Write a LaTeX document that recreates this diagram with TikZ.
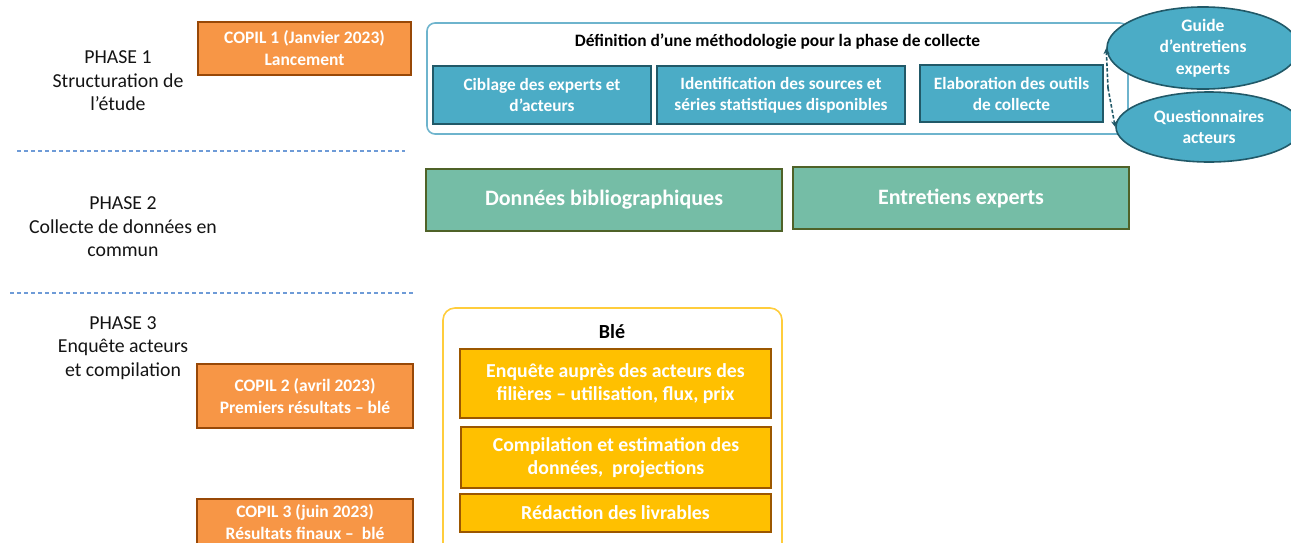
\documentclass[tikz,border=0pt]{standalone}
\usepackage{fontspec}
\setmainfont{Carlito}
\usetikzlibrary{shapes.geometric,arrows.meta}
\definecolor{orfill}{RGB}{247,150,70}
\definecolor{ordraw}{RGB}{152,72,7}
\definecolor{blfill}{RGB}{75,172,198}
\definecolor{bldraw}{RGB}{33,89,104}
\definecolor{blout}{RGB}{110,180,205}
\definecolor{grfill}{RGB}{117,189,166}
\definecolor{grdraw}{RGB}{79,98,40}
\definecolor{yefill}{RGB}{255,192,0}
\definecolor{yedraw}{RGB}{156,87,0}
\definecolor{yeout}{RGB}{255,205,60}
\definecolor{sep}{RGB}{110,155,215}
\definecolor{txt}{RGB}{20,20,20}
\tikzset{
  box/.style={draw, line width=1.6pt, inner sep=2pt, align=center, text=white, font=\bfseries},
  copil/.style={box, fill=orfill, draw=ordraw, font=\bfseries\fontsize{17.5}{22}\selectfont},
  bluebox/.style={box, fill=blfill, draw=bldraw, font=\bfseries\fontsize{17.3}{21}\selectfont},
  greenbox/.style={box, fill=grfill, draw=grdraw, font=\bfseries\fontsize{22}{26}\selectfont},
  yellowbox/.style={box, fill=yefill, draw=yedraw, font=\bfseries\fontsize{19.8}{23.5}\selectfont},
  ell/.style={ellipse, draw=bldraw, line width=1.6pt, fill=blfill, text=white, align=center, inner sep=0pt, font=\bfseries\fontsize{17.5}{21.5}\selectfont},
  phase/.style={align=center, text=txt, font=\fontsize{19.8}{23.5}\selectfont},
  sepline/.style={draw=sep, dashed, dash pattern=on 4pt off 3pt, line width=1.1pt},
  conn/.style={draw=bldraw, dashed, dash pattern=on 3.5pt off 2pt, line width=1.6pt, -{Stealth[length=6pt,width=6pt]}}
}
\begin{document}
\begin{tikzpicture}[x=1pt,y=-1pt]
\useasboundingbox (0,0) rectangle (1291,542);
% phases
\node[phase] (p1) at (118,81) {PHASE 1\\Structuration de\\l’étude};
\node[phase] (p2) at (123,227) {PHASE 2\\Collecte de données en\\commun};
\node[phase] (p3) at (123,348) {PHASE 3\\Enquête acteurs\\et compilation};
\coordinate (s1a) at (17,151); \coordinate (s1b) at (405,151);
\coordinate (s2a) at (10,293); \coordinate (s2b) at (414,293);
\draw[sepline] (s1a) -- (s1b);
\draw[sepline] (s2a) -- (s2b);
% COPIL
\node[copil, minimum width=213pt, minimum height=53pt] (c1) at (304.5,48.5) {COPIL 1 (Janvier 2023)\\Lancement};
\node[copil, minimum width=216pt, minimum height=64pt] (c2) at (305,396) {COPIL 2 (avril 2023)\\Premiers résultats – blé};
\node[copil, minimum width=216pt, minimum height=46pt] (c3) at (305,522) {COPIL 3 (juin 2023)\\Résultats finaux –\ \ blé};
% phase 1 box
\node[draw=blout, line width=1.6pt, rounded corners=8pt, minimum width=701pt, minimum height=111pt] (outer) at (777.5,78.5) {};
\node[font=\bfseries\fontsize{17.4}{20}\selectfont, text=black] (title) at (777.5,42) {Définition d’une méthodologie pour la phase de collecte};
\node[bluebox, minimum width=218pt, minimum height=58pt] (b1) at (542,95) {Ciblage des experts et\\d’acteurs};
\node[bluebox, minimum width=248pt, minimum height=58pt] (b2) at (781,95) {Identification des sources et\\séries statistiques disponibles};
\node[bluebox, minimum width=183pt, minimum height=57pt] (b3) at (1011.5,93.5) {Elaboration des outils\\de collecte};
\node[ell, minimum width=192pt, minimum height=71pt] (e1) at (1203,48) {Guide\\d’entretiens\\experts};
\node[ell, minimum width=186pt, minimum height=70pt] (e2) at (1209,127) {Questionnaires\\acteurs};
\coordinate (cj) at (1108,88);
\draw[conn] (cj) -- (e1.west);
\draw[conn] (cj) -- (e2.west);
% phase 2
\node[greenbox, minimum width=356pt, minimum height=62pt] (g1) at (604,200) {Données bibliographiques};
\node[greenbox, minimum width=336pt, minimum height=62pt] (g2) at (961,198) {Entretiens experts};
% phase 3
\node[draw=yeout, line width=1.6pt, rounded corners=12pt, minimum width=339pt, minimum height=250pt] (bout) at (612.5,433) {};
\node[font=\bfseries\fontsize{20}{24}\selectfont, text=black] (ble) at (612,332) {Blé};
\node[yellowbox, minimum width=311pt, minimum height=69pt] (y1) at (615.5,383.5) {Enquête auprès des acteurs des\\filières – utilisation, flux, prix};
\node[yellowbox, minimum width=310pt, minimum height=61pt] (y2) at (616,457.5) {Compilation et estimation des\\données,\ \ projections};
\node[yellowbox, minimum width=311pt, minimum height=38pt] (y3) at (615.5,513) {Rédaction des livrables};
\end{tikzpicture}
\end{document}
